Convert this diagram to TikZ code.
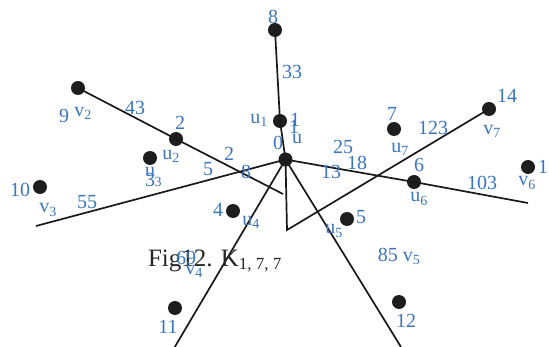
\documentclass[tikz,border=0pt]{standalone}
\usepackage{fontspec}
\setmainfont{Liberation Serif}
\definecolor{lblue}{RGB}{58,118,192}
\definecolor{dotc}{RGB}{30,30,30}
\newcommand{\sbs}[1]{\textsubscript{\fontsize{14}{14}\selectfont #1}}
\begin{document}
\begin{tikzpicture}[x=1pt,y=-1pt,
  dot/.style={circle,fill=dotc,inner sep=0pt,minimum size=14pt},
  edge/.style={line width=1.7pt,black!90},
  lb/.style={text=lblue,font=\fontsize{20}{20}\selectfont,inner sep=0pt},
  sb/.style={text=lblue,font=\fontsize{14}{14}\selectfont,inner sep=0pt}]
\useasboundingbox (0,0) rectangle (549,347);
% vertices
\node[dot] (n8) at (275,30) {};
\node[dot] (u1) at (280,121) {};
\node[dot] (u) at (285.5,159.5) {};
\node[dot] (v2) at (78,88) {};
\node[dot] (u2) at (176,139) {};
\node[dot] (u3) at (150,158) {};
\node[dot] (v3) at (40,187) {};
\node[dot] (u4) at (233,211) {};
\node[dot] (v4) at (175,308) {};
\node[dot] (u5) at (347,219) {};
\node[dot] (v5) at (399,302) {};
\node[dot] (u6) at (414,182) {};
\node[dot] (v6) at (528,167) {};
\node[dot] (u7) at (394,129) {};
\node[dot] (v7) at (489,109) {};
% free ends
\coordinate (e2) at (283,194);
\coordinate (e3) at (36,226);
\coordinate (e4) at (173,350);
\coordinate (e5) at (401,347);
\coordinate (e6) at (528,203);
\coordinate (k) at (287,230);
% edges
\draw[edge] (n8.center) -- (u1.center) -- (u.center);
\draw[edge] (v2.center) -- (u2.center) -- (e2);
\draw[edge] (e3) -- (u.center);
\draw[edge] (u.center) -- (e4);
\draw[edge] (u.center) -- (e5);
\draw[edge] (u.center) -- (u6.center) -- (e6);
\draw[edge] (u.center) -- (k) -- (v7.center);
% labels
\node[lb] (l8) at (273,17) {8};
\node[lb] (l33) at (292,72) {33};
\node[lb] (lu1) at (259,120) {u\sbs{1}};
\node[lb] (l1a) at (295,120) {1};
\node[lb] (l1b) at (294,127) {1};
\node[lb] (lu) at (297,139) {u};
\node[lb] (l0) at (278,143) {0};
\node[lb] (l25) at (343,147) {25};
\node[lb] (l18) at (357,163) {18};
\node[lb] (l13) at (331,172) {13};
\node[lb] (l2b) at (229,154) {2};
\node[lb] (l5b) at (208,169) {5};
\node[lb] (l8b) at (246,172) {8};
\node[lb] (l43) at (135,108) {43};
\node[lb] (l9) at (64,116) {9};
\node[lb] (lv2) at (83,113) {v\sbs{2}};
\node[lb] (l2a) at (180,123) {2};
\node[lb] (lu2) at (171,156) {u\sbs{2}};
\node[lb] (lu3) at (150,172) {u};
\node[lb] (l3x) at (150,180) {3};
\node[sb] (l3s) at (158,182) {3};
\node[lb] (l10) at (20,190) {10};
\node[lb] (lv3) at (48,210) {v\sbs{3}};
\node[lb] (l55) at (87,202) {55};
\node[lb] (l4) at (218,210) {4};
\node[lb] (lu4) at (251,222) {u\sbs{4}};
\node[font=\fontsize{25}{25}\selectfont,text=black!85,inner sep=0pt] (fig) at (215,261) {Fig12. K\textsubscript{\fontsize{17}{17}\selectfont 1, 7, 7}};
\node[lb] (l69) at (186,258) {69};
\node[lb] (lv4) at (194,271) {v\sbs{4}};
\node[lb] (l11) at (168,327) {11};
\node[lb] (lu5) at (334,231) {u\sbs{5}};
\node[lb] (l5) at (361,217) {5};
\node[lb] (l85) at (399,256) {85 v\sbs{5}};
\node[lb] (l12) at (406,321) {12};
\node[lb] (l7) at (392,114) {7};
\node[lb] (lu7) at (400,149) {u\sbs{7}};
\node[lb] (l123) at (433,128) {123};
\node[lb] (l14) at (507,96) {14};
\node[lb] (lv7) at (492,131) {v\sbs{7}};
\node[lb] (l6) at (419,165) {6};
\node[lb] (lu6) at (419,199) {u\sbs{6}};
\node[lb] (l103) at (482,183) {103};
\node[lb] (lv6) at (527,183) {v\sbs{6}};
\node[lb,anchor=west] (l13r) at (538,167) {13};
\end{tikzpicture}
\end{document}
